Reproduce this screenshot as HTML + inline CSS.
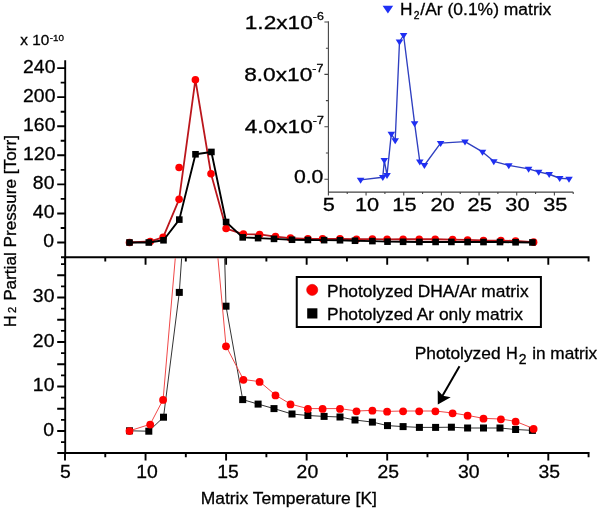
<!DOCTYPE html><html><head><meta charset="utf-8"><style>html,body{margin:0;padding:0;background:#fff;overflow:hidden;}svg{display:block;filter:blur(0.3px);}text{font-family:"Liberation Sans",sans-serif;fill:#000;stroke:#000;stroke-width:0.3px;}</style></head><body>
<svg width="600" height="508" viewBox="0 0 600 508">
<rect width="600" height="508" fill="#fff"/>
<defs><clipPath id="ctop"><rect x="66" y="0" width="540" height="256.2"/></clipPath>
<clipPath id="cbot"><rect x="66" y="258.2" width="540" height="193.8"/></clipPath></defs>
<path d="M65.2 60.2V454 M61 257.2H589.6 M57.3 453H589.6 M57.2 242.5H65.2 M60.7 227.97H65.2 M57.2 213.43H65.2 M60.7 198.9H65.2 M57.2 184.36H65.2 M60.7 169.83H65.2 M57.2 155.3H65.2 M60.7 140.76H65.2 M57.2 126.23H65.2 M60.7 111.69H65.2 M57.2 97.16H65.2 M60.7 82.63H65.2 M57.2 68.09H65.2 M61 442.12H65.2 M57.2 431H65.2 M61 419.88H65.2 M57.2 408.75H65.2 M61 397.62H65.2 M57.2 386.5H65.2 M61 375.38H65.2 M57.2 364.25H65.2 M61 353.12H65.2 M57.2 342H65.2 M61 330.88H65.2 M57.2 319.75H65.2 M61 308.62H65.2 M57.2 297.5H65.2 M61 286.38H65.2 M57.2 275.25H65.2 M61 264.12H65.2 M65 257.2V264.8 M65 453V460.6 M105.28 257.2V261.4 M105.28 453V457.2 M145.55 257.2V264.8 M145.55 453V460.6 M185.82 257.2V261.4 M185.82 453V457.2 M226.1 257.2V264.8 M226.1 453V460.6 M266.38 257.2V261.4 M266.38 453V457.2 M306.65 257.2V264.8 M306.65 453V460.6 M346.93 257.2V261.4 M346.93 453V457.2 M387.2 257.2V264.8 M387.2 453V460.6 M427.47 257.2V261.4 M427.47 453V457.2 M467.75 257.2V264.8 M467.75 453V460.6 M508.02 257.2V261.4 M508.02 453V457.2 M548.3 257.2V264.8 M548.3 453V460.6 M588.57 257.2V261.4 M588.57 453V457.2" stroke="#000" stroke-width="1.9" fill="none"/>
<text transform="translate(53.91 247) scale(1.02 1)" font-size="19" text-anchor="end">0</text>
<text transform="translate(54.41 217.93) scale(1.02 1)" font-size="19" text-anchor="end">40</text>
<text transform="translate(54.41 188.86) scale(1.02 1)" font-size="19" text-anchor="end">80</text>
<text transform="translate(55.41 159.8) scale(1.02 1)" font-size="19" text-anchor="end">120</text>
<text transform="translate(55.41 130.73) scale(1.02 1)" font-size="19" text-anchor="end">160</text>
<text transform="translate(55.41 101.66) scale(1.02 1)" font-size="19" text-anchor="end">200</text>
<text transform="translate(55.41 72.59) scale(1.02 1)" font-size="19" text-anchor="end">240</text>
<text transform="translate(53.91 435.5) scale(1.02 1)" font-size="19" text-anchor="end">0</text>
<text transform="translate(54.41 391) scale(1.02 1)" font-size="19" text-anchor="end">10</text>
<text transform="translate(54.41 346.5) scale(1.02 1)" font-size="19" text-anchor="end">20</text>
<text transform="translate(54.41 302) scale(1.02 1)" font-size="19" text-anchor="end">30</text>
<text transform="translate(65.27 478) scale(1.02 1)" font-size="19" text-anchor="middle">5</text>
<text transform="translate(146.94 478) scale(1.02 1)" font-size="19" text-anchor="middle">10</text>
<text transform="translate(228.02 478) scale(1.02 1)" font-size="19" text-anchor="middle">15</text>
<text transform="translate(307.39 478) scale(1.02 1)" font-size="19" text-anchor="middle">20</text>
<text transform="translate(388.22 478) scale(1.02 1)" font-size="19" text-anchor="middle">25</text>
<text transform="translate(468.81 478) scale(1.02 1)" font-size="19" text-anchor="middle">30</text>
<text transform="translate(549.34 478) scale(1.02 1)" font-size="19" text-anchor="middle">35</text>
<text transform="translate(20.28 45.2) scale(1.05 1)" font-size="14.6">x 10</text>
<text transform="translate(49.71 40.9) scale(1 1)" font-size="9.8">-10</text>
<text transform="translate(200.71 503.9) scale(1.04 1)" font-size="16.8">Matrix Temperature [K]</text>
<text transform="translate(16.0 326.98) rotate(-90)" font-size="16.2">H</text>
<text transform="translate(16.0 312.92) rotate(-90)" font-size="11.3">2</text>
<text transform="translate(16.0 300.86) rotate(-90) scale(1.059 1)" font-size="16.2">Partial Pressure [Torr]</text>
<g clip-path="url(#ctop)">
<polyline points="129.5,242.5 150.2,241.43 163.1,237.41 179.1,199.33 195.4,79.72 211,173.75 226.1,228.55 243.4,234.07 259.6,234.43 275.5,236.64 290.5,238.12 307.9,238.87 322.6,238.87 340,238.87 356.5,239.25 372.4,239.16 387.1,239.35 403.1,239.26 419.2,239.26 435.2,239.26 452.6,239.59 467.6,239.96 483.5,240.47 500.9,240.57 515.6,240.97 533.6,242.14" fill="none" stroke="#bb161c" stroke-width="1.8" stroke-linejoin="round"/>
<circle cx="129.5" cy="242.5" r="3.8" fill="#f00"/>
<circle cx="150.2" cy="241.43" r="3.8" fill="#f00"/>
<circle cx="163.1" cy="237.41" r="3.8" fill="#f00"/>
<circle cx="179.1" cy="199.33" r="3.8" fill="#f00"/>
<circle cx="195.4" cy="79.72" r="3.8" fill="#f00"/>
<circle cx="211" cy="173.75" r="3.8" fill="#f00"/>
<circle cx="226.1" cy="228.55" r="3.8" fill="#f00"/>
<circle cx="243.4" cy="234.07" r="3.8" fill="#f00"/>
<circle cx="259.6" cy="234.43" r="3.8" fill="#f00"/>
<circle cx="275.5" cy="236.64" r="3.8" fill="#f00"/>
<circle cx="290.5" cy="238.12" r="3.8" fill="#f00"/>
<circle cx="307.9" cy="238.87" r="3.8" fill="#f00"/>
<circle cx="322.6" cy="238.87" r="3.8" fill="#f00"/>
<circle cx="340" cy="238.87" r="3.8" fill="#f00"/>
<circle cx="356.5" cy="239.25" r="3.8" fill="#f00"/>
<circle cx="372.4" cy="239.16" r="3.8" fill="#f00"/>
<circle cx="387.1" cy="239.35" r="3.8" fill="#f00"/>
<circle cx="403.1" cy="239.26" r="3.8" fill="#f00"/>
<circle cx="419.2" cy="239.26" r="3.8" fill="#f00"/>
<circle cx="435.2" cy="239.26" r="3.8" fill="#f00"/>
<circle cx="452.6" cy="239.59" r="3.8" fill="#f00"/>
<circle cx="467.6" cy="239.96" r="3.8" fill="#f00"/>
<circle cx="483.5" cy="240.47" r="3.8" fill="#f00"/>
<circle cx="500.9" cy="240.57" r="3.8" fill="#f00"/>
<circle cx="515.6" cy="240.97" r="3.8" fill="#f00"/>
<circle cx="533.6" cy="242.14" r="3.8" fill="#f00"/>
<circle cx="179.1" cy="167.5" r="3.8" fill="#f00"/>
<polyline points="129.5,242.5 148.8,242.5 163.5,240.27 179.3,219.61 195.5,154.28 211.4,151.95 226.1,222.01 242.7,237.38 258.1,238.12 274,238.87 292,239.74 307.9,239.99 324.1,240.14 340,240.25 355,240.73 372.4,241.08 387.5,241.65 403.1,241.8 419.4,241.93 435.6,241.93 451.4,241.93 467.6,242.04 483.5,242.04 500,242.04 515.6,242.28 532.4,242.43" fill="none" stroke="#000" stroke-width="1.9" stroke-linejoin="round"/>
<rect x="126.2" y="239.2" width="6.6" height="6.6" fill="#000"/>
<rect x="145.5" y="239.2" width="6.6" height="6.6" fill="#000"/>
<rect x="160.2" y="236.97" width="6.6" height="6.6" fill="#000"/>
<rect x="176" y="216.31" width="6.6" height="6.6" fill="#000"/>
<rect x="192.2" y="150.98" width="6.6" height="6.6" fill="#000"/>
<rect x="208.1" y="148.65" width="6.6" height="6.6" fill="#000"/>
<rect x="222.8" y="218.71" width="6.6" height="6.6" fill="#000"/>
<rect x="239.4" y="234.08" width="6.6" height="6.6" fill="#000"/>
<rect x="254.8" y="234.82" width="6.6" height="6.6" fill="#000"/>
<rect x="270.7" y="235.57" width="6.6" height="6.6" fill="#000"/>
<rect x="288.7" y="236.44" width="6.6" height="6.6" fill="#000"/>
<rect x="304.6" y="236.69" width="6.6" height="6.6" fill="#000"/>
<rect x="320.8" y="236.84" width="6.6" height="6.6" fill="#000"/>
<rect x="336.7" y="236.95" width="6.6" height="6.6" fill="#000"/>
<rect x="351.7" y="237.43" width="6.6" height="6.6" fill="#000"/>
<rect x="369.1" y="237.78" width="6.6" height="6.6" fill="#000"/>
<rect x="384.2" y="238.35" width="6.6" height="6.6" fill="#000"/>
<rect x="399.8" y="238.5" width="6.6" height="6.6" fill="#000"/>
<rect x="416.1" y="238.63" width="6.6" height="6.6" fill="#000"/>
<rect x="432.3" y="238.63" width="6.6" height="6.6" fill="#000"/>
<rect x="448.1" y="238.63" width="6.6" height="6.6" fill="#000"/>
<rect x="464.3" y="238.74" width="6.6" height="6.6" fill="#000"/>
<rect x="480.2" y="238.74" width="6.6" height="6.6" fill="#000"/>
<rect x="496.7" y="238.74" width="6.6" height="6.6" fill="#000"/>
<rect x="512.3" y="238.98" width="6.6" height="6.6" fill="#000"/>
<rect x="529.1" y="239.13" width="6.6" height="6.6" fill="#000"/>
</g>
<g clip-path="url(#cbot)">
<polyline points="129.5,430.8 148.8,431.2 163.5,417.2 179.3,292.4 185.6,200 223,200 226,306.2 242.7,399.6 258.1,404.1 274,408.6 292,414 307.9,415.5 324.1,416.4 340,417 355,420 372.4,422.1 387.5,425.6 403.1,426.6 419.4,427.4 435.6,427.4 451.4,427.2 467.6,428 483.5,428 500,428 515.6,429.5 532.4,430.4" fill="none" stroke="#333" stroke-width="1"/>
<rect x="126" y="427.3" width="7" height="7" fill="#000"/>
<rect x="145.3" y="427.7" width="7" height="7" fill="#000"/>
<rect x="160" y="413.7" width="7" height="7" fill="#000"/>
<rect x="175.8" y="288.9" width="7" height="7" fill="#000"/>
<rect x="222.5" y="302.7" width="7" height="7" fill="#000"/>
<rect x="239.2" y="396.1" width="7" height="7" fill="#000"/>
<rect x="254.6" y="400.6" width="7" height="7" fill="#000"/>
<rect x="270.5" y="405.1" width="7" height="7" fill="#000"/>
<rect x="288.5" y="410.5" width="7" height="7" fill="#000"/>
<rect x="304.4" y="412" width="7" height="7" fill="#000"/>
<rect x="320.6" y="412.9" width="7" height="7" fill="#000"/>
<rect x="336.5" y="413.5" width="7" height="7" fill="#000"/>
<rect x="351.5" y="416.5" width="7" height="7" fill="#000"/>
<rect x="368.9" y="418.6" width="7" height="7" fill="#000"/>
<rect x="384" y="422.1" width="7" height="7" fill="#000"/>
<rect x="399.6" y="423.1" width="7" height="7" fill="#000"/>
<rect x="415.9" y="423.9" width="7" height="7" fill="#000"/>
<rect x="432.1" y="423.9" width="7" height="7" fill="#000"/>
<rect x="447.9" y="423.7" width="7" height="7" fill="#000"/>
<rect x="464.1" y="424.5" width="7" height="7" fill="#000"/>
<rect x="480" y="424.5" width="7" height="7" fill="#000"/>
<rect x="496.5" y="424.5" width="7" height="7" fill="#000"/>
<rect x="512.1" y="426" width="7" height="7" fill="#000"/>
<rect x="528.9" y="426.9" width="7" height="7" fill="#000"/>
<polyline points="129.5,430.8 150.2,424.3 163.1,399.6 180.3,200 212.6,200 226,346 243.4,379.5 259.6,381.6 275.5,395.1 290.5,404.1 307.9,408.6 322.6,408.6 340,408.6 356.5,411 372.4,410.4 387.1,411.4 403.1,411 419.2,411 435.4,411 452.6,413 467.6,415.4 483.5,418.4 500.9,419 515.6,421.4 533.6,428.6" fill="none" stroke="#f04848" stroke-width="1"/>
<circle cx="129.5" cy="431.1" r="3.9" fill="#f00"/>
<circle cx="150.2" cy="424.6" r="3.9" fill="#f00"/>
<circle cx="163.1" cy="399.9" r="3.9" fill="#f00"/>
<circle cx="226" cy="346.3" r="3.9" fill="#f00"/>
<circle cx="243.4" cy="379.8" r="3.9" fill="#f00"/>
<circle cx="259.6" cy="381.9" r="3.9" fill="#f00"/>
<circle cx="275.5" cy="395.4" r="3.9" fill="#f00"/>
<circle cx="290.5" cy="404.4" r="3.9" fill="#f00"/>
<circle cx="307.9" cy="408.9" r="3.9" fill="#f00"/>
<circle cx="322.6" cy="408.9" r="3.9" fill="#f00"/>
<circle cx="340" cy="408.9" r="3.9" fill="#f00"/>
<circle cx="356.5" cy="411.3" r="3.9" fill="#f00"/>
<circle cx="372.4" cy="410.7" r="3.9" fill="#f00"/>
<circle cx="387.1" cy="411.7" r="3.9" fill="#f00"/>
<circle cx="403.1" cy="411.3" r="3.9" fill="#f00"/>
<circle cx="419.2" cy="411.3" r="3.9" fill="#f00"/>
<circle cx="435.4" cy="411.3" r="3.9" fill="#f00"/>
<circle cx="452.6" cy="413.3" r="3.9" fill="#f00"/>
<circle cx="467.6" cy="415.7" r="3.9" fill="#f00"/>
<circle cx="483.5" cy="418.7" r="3.9" fill="#f00"/>
<circle cx="500.9" cy="419.3" r="3.9" fill="#f00"/>
<circle cx="515.6" cy="421.7" r="3.9" fill="#f00"/>
<circle cx="533.6" cy="428.9" r="3.9" fill="#f00"/>
</g>
<rect x="296.75" y="277" width="244.15" height="50" fill="#fff" stroke="#000" stroke-width="2"/>
<circle cx="312.2" cy="289.9" r="5.6" fill="#f00" stroke="#c00" stroke-width="0.5"/>
<rect x="307.2" y="308.3" width="10.2" height="10.2" fill="#000"/>
<text transform="translate(327.12 296.5) scale(1.04 1)" font-size="16.7">Photolyzed DHA/Ar matrix</text>
<text transform="translate(327.12 320.3) scale(1.04 1)" font-size="16.7">Photolyzed Ar only matrix</text>
<text transform="translate(414.72 359) scale(1.06 1)" font-size="16.4">Photolyzed</text>
<text transform="translate(506.01 359) scale(1 1)" font-size="16.3">H</text>
<text transform="translate(518.65 364.4) scale(1 1)" font-size="14">2</text>
<text transform="translate(532.19 359.1) scale(1.05 1)" font-size="16.4">in matrix</text>
<path d="M459.5 366.2L441.5 397.5" stroke="#000" stroke-width="2" fill="none"/>
<path d="M437.8 404.4L437.7 390.2L443 395.8L450.7 397.3Z" fill="#000"/>
<path d="M328.4 21.2V192.6 M327.9 192.1H573.2 M324.4 179.2H328.4 M325.9 153H328.4 M324.4 126.8H328.4 M325.9 100.6H328.4 M324.4 74.4H328.4 M325.9 48.2H328.4 M324.4 22H328.4 M328.4 192.1V195.6 M347.23 192.1V194.1 M366.06 192.1V195.6 M384.9 192.1V194.1 M403.73 192.1V195.6 M422.56 192.1V194.1 M441.39 192.1V195.6 M460.23 192.1V194.1 M479.06 192.1V195.6 M497.89 192.1V194.1 M516.73 192.1V195.6 M535.56 192.1V194.1 M554.39 192.1V195.6 M573.22 192.1V194.1" stroke="#444" stroke-width="1.1" fill="none"/>
<polyline points="360.6,179.85 382.8,177.25 384.3,160.25 387,175.15 391.3,133.85 395.2,140.45 399.5,41.75 403.6,35.25 414.6,123.45 419.8,161.65 424.4,165.25 440.6,143.15 465,141.55 482.5,151.95 493.8,161.35 508.8,165.45 528.6,168.95 538.7,171.95 549.2,174.25 559.7,178.25 569,178.95" fill="none" stroke="#2f3fc0" stroke-width="1.35" stroke-linejoin="round"/>
<path d="M356.8 177.7h7.6l-3.8 6z" fill="#1f2ff2"/>
<path d="M379 175.1h7.6l-3.8 6z" fill="#1f2ff2"/>
<path d="M380.5 158.1h7.6l-3.8 6z" fill="#1f2ff2"/>
<path d="M383.2 173h7.6l-3.8 6z" fill="#1f2ff2"/>
<path d="M387.5 131.7h7.6l-3.8 6z" fill="#1f2ff2"/>
<path d="M391.4 138.3h7.6l-3.8 6z" fill="#1f2ff2"/>
<path d="M395.7 39.6h7.6l-3.8 6z" fill="#1f2ff2"/>
<path d="M399.8 33.1h7.6l-3.8 6z" fill="#1f2ff2"/>
<path d="M410.8 121.3h7.6l-3.8 6z" fill="#1f2ff2"/>
<path d="M416 159.5h7.6l-3.8 6z" fill="#1f2ff2"/>
<path d="M420.6 163.1h7.6l-3.8 6z" fill="#1f2ff2"/>
<path d="M436.8 141h7.6l-3.8 6z" fill="#1f2ff2"/>
<path d="M461.2 139.4h7.6l-3.8 6z" fill="#1f2ff2"/>
<path d="M478.7 149.8h7.6l-3.8 6z" fill="#1f2ff2"/>
<path d="M490 159.2h7.6l-3.8 6z" fill="#1f2ff2"/>
<path d="M505 163.3h7.6l-3.8 6z" fill="#1f2ff2"/>
<path d="M524.8 166.8h7.6l-3.8 6z" fill="#1f2ff2"/>
<path d="M534.9 169.8h7.6l-3.8 6z" fill="#1f2ff2"/>
<path d="M545.4 172.1h7.6l-3.8 6z" fill="#1f2ff2"/>
<path d="M555.9 176.1h7.6l-3.8 6z" fill="#1f2ff2"/>
<path d="M565.2 176.8h7.6l-3.8 6z" fill="#1f2ff2"/>
<text transform="translate(244.72 28.6) scale(1.24 1)" font-size="18.3">1.2x10<tspan font-size="10" dy="-8.8">-6</tspan></text>
<text transform="translate(244.16 80.8) scale(1.24 1)" font-size="18.3">8.0x10<tspan font-size="10" dy="-8.8">-7</tspan></text>
<text transform="translate(244.63 132.9) scale(1.24 1)" font-size="18.3">4.0x10<tspan font-size="10" dy="-8.8">-7</tspan></text>
<text transform="translate(323.38 183) scale(1.16 1)" font-size="18.3" text-anchor="end">0.0</text>
<text transform="translate(328.72 211.4) scale(1.17 1)" font-size="18.6" text-anchor="middle">5</text>
<text transform="translate(367.1 211.4) scale(1.17 1)" font-size="18.6" text-anchor="middle">10</text>
<text transform="translate(404.43 211.4) scale(1.17 1)" font-size="18.6" text-anchor="middle">15</text>
<text transform="translate(442.48 211.4) scale(1.17 1)" font-size="18.6" text-anchor="middle">20</text>
<text transform="translate(479.71 211.4) scale(1.17 1)" font-size="18.6" text-anchor="middle">25</text>
<text transform="translate(517.41 211.4) scale(1.17 1)" font-size="18.6" text-anchor="middle">30</text>
<text transform="translate(555.24 211.4) scale(1.17 1)" font-size="18.6" text-anchor="middle">35</text>
<path d="M382.6 5.8H393.2L387.9 13.4Z" fill="#1f30f5"/>
<text transform="translate(399.93 15.25) scale(1 1)" font-size="17.3">H</text>
<text transform="translate(413.83 19.2) scale(1 1)" font-size="10.3">2</text>
<text transform="translate(420.35 15.25) scale(1.01 1)" font-size="17.3">/Ar (0.1%) matrix</text>
</svg></body></html>
